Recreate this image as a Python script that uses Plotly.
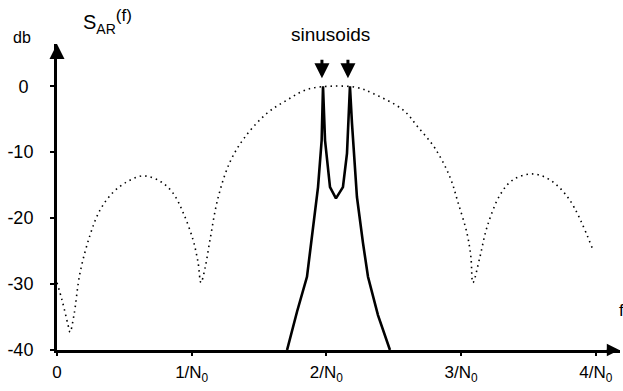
import plotly.graph_objects as go

# Dotted curve: window (periodogram-like) spectrum, dB vs frequency (units of 1/N0)
win_f = [0.0, 0.037, 0.082, 0.097, 0.126, 0.171, 0.245, 0.319, 0.416, 0.52, 0.639, 0.765, 0.861,
         0.935, 1.01, 1.047, 1.069, 1.099, 1.136, 1.195, 1.284, 1.396, 1.559, 1.708, 1.856, 2.027,
         2.227, 2.346, 2.569, 2.68, 2.806, 2.918, 2.977, 3.044, 3.073, 3.088, 3.14, 3.192, 3.289,
         3.385, 3.526, 3.66, 3.808, 3.979]
win_db = [-29.8, -32.4, -36.2, -37.3, -34.7, -28.3, -22.6, -18.8, -16.1, -14.5, -13.6, -14.4, -16.2,
          -19.1, -23.3, -26.7, -29.8, -27.6, -23.3, -17.0, -11.5, -7.7, -4.1, -2.1, -0.5, 0.0,
          -0.2, -1.1, -3.6, -6.2, -9.4, -13.8, -17.6, -22.3, -25.9, -29.8, -25.9, -21.4, -16.5,
          -14.2, -13.3, -14.2, -17.3, -24.8]

# Solid curve: AR spectrum S_AR(f)
ar_f = [1.708, 1.782, 1.856, 1.900, 1.938, 1.965, 1.975, 1.99, 2.027, 2.071, 2.123, 2.153, 2.175,
        2.19, 2.227, 2.272, 2.309, 2.383, 2.472]
ar_db = [-40.0, -34.2, -28.9, -21.8, -15.3, -8.2, 0.0, -8.2, -15.3, -17.0, -15.3, -10.2, 0.0,
         -5.6, -16.8, -23.8, -28.9, -34.7, -40.0]

sinusoid_f = [1.967, 2.16]

x_ticks = [0, 1, 2, 3, 4]
x_labels = ["0", "1/N<sub>0</sub>", "2/N<sub>0</sub>", "3/N<sub>0</sub>", "4/N<sub>0</sub>"]
y_ticks = [0, -10, -20, -30, -40]
y_labels = ["0&nbsp;", "-10", "-20", "-30", "-40"]

FONT = "Liberation Sans, Arial, sans-serif"
X_MAX = 4.18
Y_MAX = 6.4

fig = go.Figure()
fig.add_trace(go.Scatter(x=win_f, y=win_db, mode="lines",
                         line=dict(color="black", width=1.6, dash="1.5px,4px", shape="spline"),
                         hoverinfo="skip", showlegend=False))
fig.add_trace(go.Scatter(x=ar_f, y=ar_db, mode="lines",
                         line=dict(color="black", width=2.6),
                         hoverinfo="skip", showlegend=False))

annotations = [
    dict(x=-0.062, y=1.02, xref="paper", yref="paper", text="db", showarrow=False,
         font=dict(family=FONT, size=16, color="black"), xanchor="center", yanchor="middle"),
    dict(x=0.042, y=1.075, xref="paper", yref="paper",
         text="S<sub>AR</sub><sup><span style='font-size:17px'>(f)</span></sup>",
         showarrow=False, font=dict(family=FONT, size=20, color="black"),
         xanchor="left", yanchor="middle"),
    dict(x=0.485, y=1.03, xref="paper", yref="paper", text="sinusoids", showarrow=False,
         font=dict(family=FONT, size=19, color="black"), xanchor="center", yanchor="middle"),
    dict(x=0.995, y=0.13, xref="paper", yref="paper", text="f", showarrow=False,
         font=dict(family=FONT, size=17, color="black"), xanchor="left", yanchor="middle"),
]
for sf in sinusoid_f:
    annotations.append(dict(x=sf, y=1.2, xref="x", yref="y", ax=0, ay=-20, text="",
                            showarrow=True, arrowhead=2, arrowsize=1.0, arrowwidth=3,
                            arrowcolor="black"))
# axis arrowheads
annotations.append(dict(x=0, y=Y_MAX, xref="x", yref="y", ax=0, ay=14, text="",
                        showarrow=True, arrowhead=2, arrowsize=1, arrowwidth=3, arrowcolor="black"))
annotations.append(dict(x=X_MAX - 0.005, y=-40, xref="x", yref="y", ax=-14, ay=0, text="",
                        showarrow=True, arrowhead=2, arrowsize=1, arrowwidth=2.5, arrowcolor="black"))

fig.update_layout(
    width=623, height=391,
    margin=dict(l=57, r=3, t=44, b=41, autoexpand=False),
    paper_bgcolor="white", plot_bgcolor="white",
    font=dict(family=FONT, size=18, color="black"),
    annotations=annotations,
    xaxis=dict(range=[0, X_MAX], tickvals=x_ticks, ticktext=x_labels, showgrid=False,
               zeroline=False, showline=True, linecolor="black", linewidth=2.5, automargin=False,
               ticks="outside", ticklen=3, tickcolor="black", tickwidth=1.5,
               tickfont=dict(family=FONT, size=17, color="black"), ticklabelstandoff=2),
    yaxis=dict(range=[-40, Y_MAX], tickvals=y_ticks, ticktext=y_labels, showgrid=False,
               zeroline=False, showline=True, linecolor="black", linewidth=3, automargin=False,
               ticks="outside", ticklen=4, tickcolor="black", tickwidth=1.5,
               tickfont=dict(family=FONT, size=18, color="black"), ticklabelstandoff=13),
)

fig.write_html("out.html", config={"displayModeBar": False},
               post_script="document.body.style.margin='0';")
